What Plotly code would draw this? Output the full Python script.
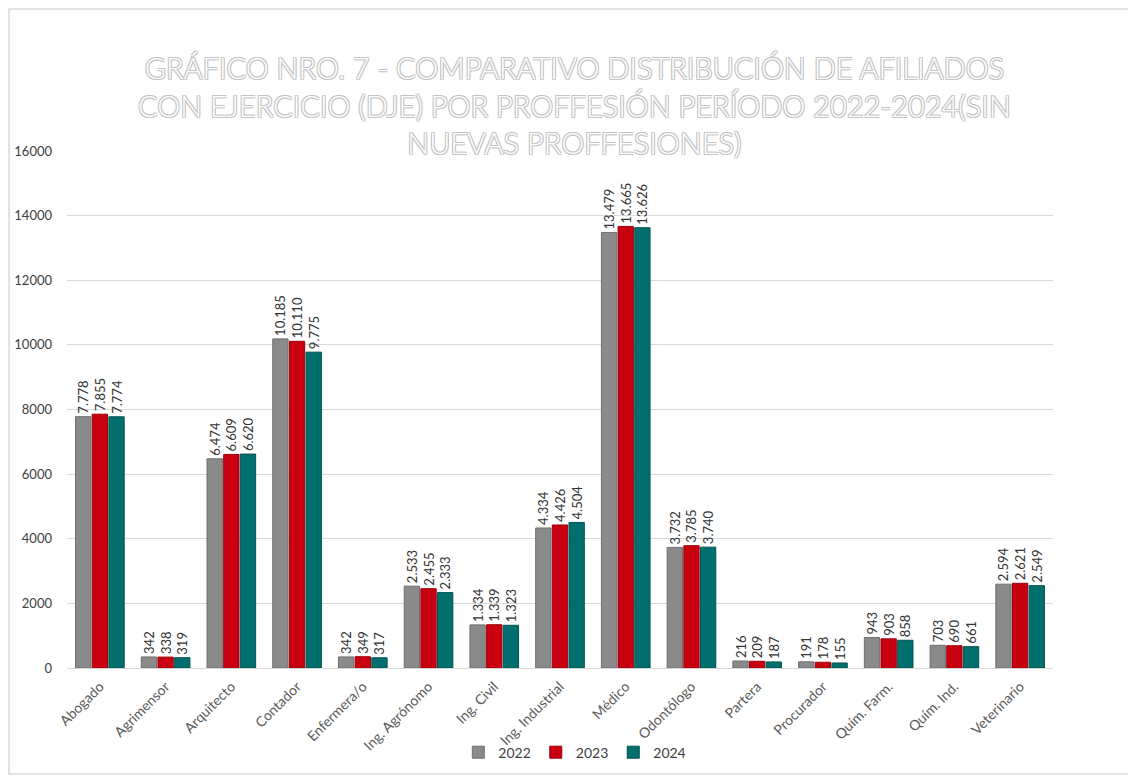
import plotly.graph_objects as go

categories = ["Abogado", "Agrimensor", "Arquitecto", "Contador", "Enfermera/o",
              "Ing. Agrónomo", "Ing. Civil", "Ing. Industrial", "Médico", "Odontólogo",
              "Partera", "Procurador", "Quím. Farm.", "Quím. Ind.", "Veterinario"]
v2022 = [7778, 342, 6474, 10185, 342, 2533, 1334, 4334, 13479, 3732, 216, 191, 943, 703, 2594]
v2023 = [7855, 338, 6609, 10110, 349, 2455, 1339, 4426, 13665, 3785, 209, 178, 903, 690, 2621]
v2024 = [7774, 319, 6620, 9775, 317, 2333, 1323, 4504, 13626, 3740, 187, 155, 858, 661, 2549]
series_names = ["2022", "2023", "2024"]
y_ticks = [0, 2000, 4000, 6000, 8000, 10000, 12000, 14000, 16000]

colors = ["#8a8a8a", "#c8000f", "#006f6d"]
edges = ["#6e6e6e", "#9a000a", "#005250"]

FONT = "Lato, Open Sans, sans-serif"

fig = go.Figure()
for name, vals, c, e in zip(series_names, [v2022, v2023, v2024], colors, edges):
    fig.add_trace(go.Bar(
        x=categories, y=vals, name=name,
        marker=dict(color=c, line=dict(color=e, width=1)),
        texttemplate="%{y:,}", textposition="outside", textangle=-90,
        textfont=dict(size=13, color="#333333", family=FONT),
        cliponaxis=False,
    ))

title_txt = ("GRÁFICO NRO. 7 - COMPARATIVO DISTRIBUCIÓN DE AFILIADOS<br>"
             "CON EJERCICIO (DJE) POR PROFFESIÓN PERÍODO 2022-2024(SIN<br>"
             "NUEVAS PROFFESIONES)")

sh = "#c4c4c4"
fig.add_annotation(
    text=title_txt, xref="paper", yref="paper", x=0.515, y=1.199,
    xanchor="center", yanchor="top", showarrow=False, align="center",
    font=dict(size=29, color="#ffffff", family=FONT, weight=300,
              shadow=f"1px 1px 0 {sh}, -1px -1px 0 {sh}, 1px -1px 0 {sh}, -1px 1px 0 {sh}"),
)

fig.update_layout(
    width=1128, height=770,
    paper_bgcolor="white", plot_bgcolor="white",
    separators=",.",
    barmode="group", bargap=0.24, bargroupgap=0.08,
    uniformtext=dict(minsize=13, mode="show"),
    margin=dict(l=59, r=83, t=143, b=110),
    font=dict(family=FONT, color="#404040"),
    xaxis=dict(tickangle=-45, tickfont=dict(size=14, color="#595959"),
               showline=True, linecolor="#d9d9d9", ticks="", automargin=False,
               ticklabelstandoff=4),
    yaxis=dict(range=[0, 16000], tickvals=y_ticks, tickformat="d",
               gridcolor="#d9d9d9", zeroline=False, automargin=False,
               tickfont=dict(size=13, color="#404040"), ticklabelstandoff=14),
    legend=dict(orientation="h", x=0.515, xanchor="center",
                yref="container", y=0.033, yanchor="middle",
                bgcolor="rgba(0,0,0,0)",
                font=dict(size=14, color="#404040"), itemwidth=30,
                traceorder="normal"),
    showlegend=True,
    shapes=[dict(type="rect", xref="paper", yref="paper",
                 x0=-0.0588, x1=1.08, y0=-0.205, y1=1.2747,
                 line=dict(color="#d9d9d9", width=1.5))],
)

fig.write_html("out.html")
